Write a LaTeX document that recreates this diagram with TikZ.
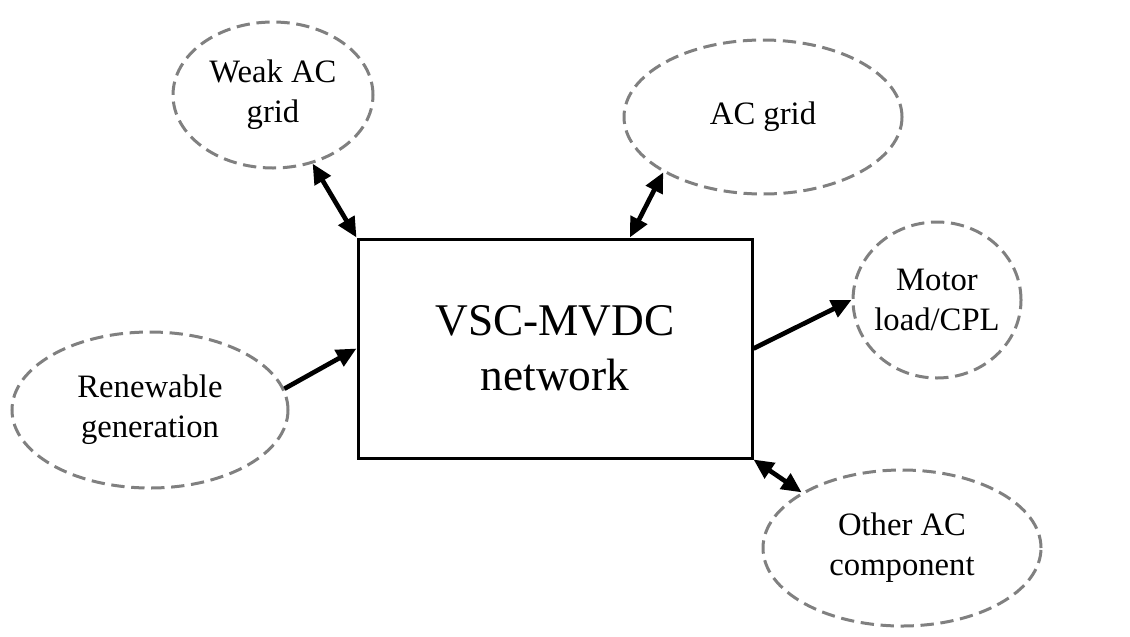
\documentclass[tikz,border=0pt]{standalone}
\usepackage{fontspec}
\setmainfont{Liberation Serif}
\usetikzlibrary{arrows.meta,shapes.geometric}
\tikzset{
  cloud/.style={ellipse,draw={rgb,255:red,128;green,128;blue,128},line width=2.25pt,dash pattern=on 10pt off 5pt,inner sep=0pt},
  lbl/.style={align=center,font=\fontsize{24.5}{30}\selectfont},
  mainbox/.style={draw,line width=2.25pt,minimum width=295.5pt,minimum height=164.25pt,inner sep=0pt,align=center,font=\fontsize{34}{41}\selectfont},
  link/.style={line width=3.5pt,-{Triangle[length=15pt,width=13.5pt]}},
  dlink/.style={line width=3.5pt,{Triangle[length=15pt,width=13.5pt]}-{Triangle[length=15pt,width=13.5pt]}}
}
\begin{document}
\begin{tikzpicture}[x=0.75pt,y=-0.75pt]
\useasboundingbox (0,0) rectangle (1130,636);
\node[mainbox] (box) at (555,348.5) {VSC-MVDC\\network};
\node[cloud,minimum width=150pt,minimum height=109.5pt] (weak) at (273,95) {};
\node[lbl] (weakt) at (weak.center) {Weak AC\\grid};
\node[cloud,minimum width=208.5pt,minimum height=115.5pt] (acg) at (763,117) {};
\node[lbl] (acgt) at (acg.center) {AC grid};
\node[cloud,minimum width=126pt,minimum height=117pt] (motor) at (937,300) {};
\node[lbl] (motort) at (motor.center) {Motor\\load/CPL};
\node[cloud,minimum width=207pt,minimum height=117pt] (ren) at (150,410) {};
\node[lbl] (rent) at (ren.center) {Renewable\\generation};
\node[cloud,minimum width=208.5pt,minimum height=117pt] (oth) at (902,548) {};
\node[lbl] (otht) at (oth.center) {Other AC\\component};
\draw[dlink] (weak.-60) -- (box.north west);
\draw[dlink] (box.56.4) -- (acg.-151);
\draw[link] (ren.9) -- (box.west);
\draw[link] (box.east) -- (motor.west);
\draw[dlink] (box.south east) -- (oth.151);
\end{tikzpicture}
\end{document}
